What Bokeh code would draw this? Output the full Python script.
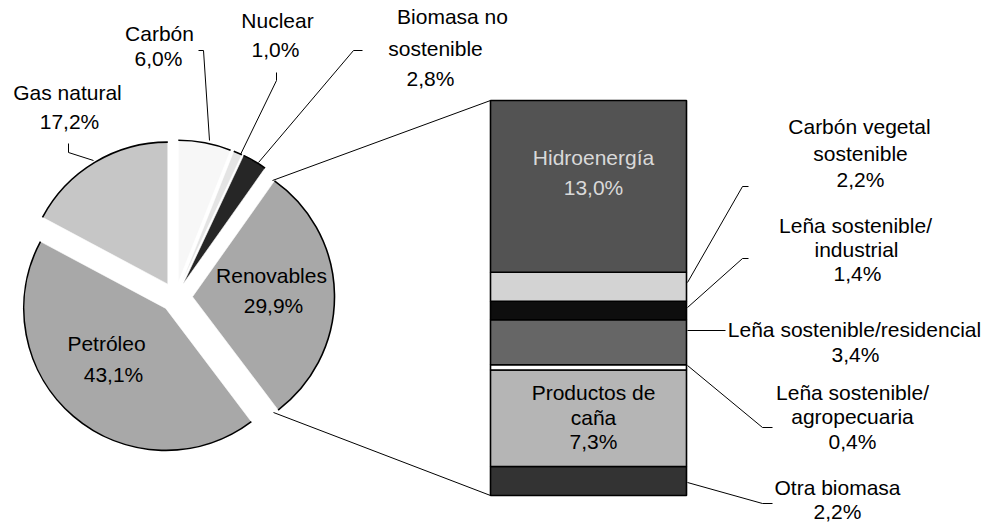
import math
from bokeh.plotting import figure
from bokeh.models import Range1d, ColumnDataSource
from bokeh.embed import file_html
from bokeh.resources import INLINE
from bokeh.core.properties import value

# ---------------- data ----------------
pie_labels = ["Carbón", "Nuclear", "Biomasa no sostenible", "Renovables", "Petróleo", "Gas natural"]
pie_values = [6.0, 1.0, 2.8, 29.9, 43.1, 17.2]

bar_labels = ["Otra biomasa", "Productos de caña", "Leña sostenible/agropecuaria",
              "Leña sostenible/residencial", "Leña sostenible/industrial",
              "Carbón vegetal sostenible", "Hidroenergía"]
bar_values = [2.2, 7.3, 0.4, 3.4, 1.4, 2.2, 13.0]

# ---------------- style / layout ----------------
pie_colors = ["#f7f7f7", "#e4e4e4", "#262626", "#a8a8a8", "#a8a8a8", "#c6c6c6"]
pie_explode = [15, 15, 15, 17, 15, 15]
bar_colors = ["#333333", "#b5b5b5", "#ffffff", "#666666", "#0e0e0e", "#d3d3d3", "#535353"]

FONT = value("Liberation Sans")
FS = "21px"
W, H = 988, 522
CX, CY, R = 175.0, 296.5, 142.0        # pie centre in page pixels
BAR_X0, BAR_X1, BAR_Y_BOTTOM, BAR_Y_TOP = 490, 686, 495, 100
TEXT_DY = -1.5                          # cap-centre -> baseline correction


def fmt(v):
    return ("%.1f" % v).replace(".", ",") + "%"


p = figure(width=W, height=H, output_backend="svg", toolbar_location=None,
           x_range=Range1d(0, W), y_range=Range1d(-H, 0),
           min_border=0, outline_line_color=None, background_fill_color="white",
           border_fill_color="white")
p.axis.visible = False
p.grid.visible = False

# ---------------- pie ----------------
total = sum(pie_values)
cum = 0.0
wx, wy, sa, ea = [], [], [], []
for v, d in zip(pie_values, pie_explode):
    t1 = 2 * math.pi * cum / total
    cum += v
    t2 = 2 * math.pi * cum / total
    tm = (t1 + t2) / 2
    wx.append(CX + d * math.sin(tm))
    wy.append(-CY + d * math.cos(tm))
    sa.append(math.pi / 2 - t1)
    ea.append(math.pi / 2 - t2)

pie_src = ColumnDataSource(dict(x=wx, y=wy, sa=sa, ea=ea, color=pie_colors, label=pie_labels))
p.wedge(x="x", y="y", radius=R, start_angle="sa", end_angle="ea", direction="clock",
        fill_color="color", line_color="white", line_width=0.6, source=pie_src)
p.arc(x="x", y="y", radius=R, start_angle="sa", end_angle="ea", direction="clock",
      line_color="black", line_width=1.6, source=pie_src)

# ---------------- bar (own percentage scale) ----------------
btotal = sum(bar_values)
k = (BAR_Y_BOTTOM - BAR_Y_TOP) / btotal
p.extra_y_ranges = {"bar": Range1d(-(H - BAR_Y_BOTTOM) / k, BAR_Y_BOTTOM / k)}
bottoms, tops = [], []
acc = 0.0
for v in bar_values:
    bottoms.append(acc)
    acc += v
    tops.append(acc)
bar_src = ColumnDataSource(dict(x=[(BAR_X0 + BAR_X1) / 2] * len(bar_values), bottom=bottoms,
                                top=tops, color=bar_colors, label=bar_labels))
p.vbar(x="x", width=BAR_X1 - BAR_X0, bottom="bottom", top="top", fill_color="color",
       line_color="black", line_width=1.6, source=bar_src, y_range_name="bar")

# ---------------- leader / connector lines ----------------
leaders = [
    [(198, 50), (203, 50), (209, 140)],      # Carbón
    [(276, 72), (276, 80), (240, 154)],      # Nuclear
    [(362, 50), (353, 50), (258, 162)],      # Biomasa no sostenible
    [(68, 143), (68, 152), (93, 160)],       # Gas natural
    [(272, 180), (490, 100)],                # connector top
    [(273, 412), (490, 495)],                # connector bottom
    [(748, 186), (742, 186), (687, 282)],    # Carbón vegetal
    [(748, 258), (742, 258), (687, 307)],    # Leña industrial
    [(687, 330), (725, 330)],                # Leña residencial
    [(772, 427), (762, 427), (687, 365)],    # Leña agropecuaria
    [(772, 503), (762, 503), (687, 482)],    # Otra biomasa
]
p.multi_line(xs=[[a for a, b in l] for l in leaders], ys=[[-b for a, b in l] for l in leaders],
             line_color="black", line_width=1)

# ---------------- labels ----------------
pie_lines = [["Carbón"], ["Nuclear"], ["Biomasa no", "sostenible"], ["Renovables"],
             ["Petróleo"], ["Gas natural"]]
pie_pos = [
    [(159, 34.5), (158, 59.5)],
    [(277, 21), (275, 50)],
    [(452, 17.5), (435, 49), (430, 79)],
    [(271, 276), (273, 306)],
    [(106, 344.5), (113, 375.5)],
    [(67, 93), (69, 122)],
]
bar_lines = [["Otra biomasa"], ["Productos de", "caña"], ["Leña sostenible/", "agropecuaria"],
             ["Leña sostenible/residencial"], ["Leña sostenible/", "industrial"],
             ["Carbón vegetal", "sostenible"], ["Hidroenergía"]]
bar_pos = [
    [(837, 488), (837, 512)],
    [(593, 393), (593, 418), (593, 442)],
    [(852, 393), (852, 417), (852, 442)],
    [(854, 330), (855, 355)],
    [(855, 226), (856, 250), (857, 274)],
    [(859, 127), (860, 154), (860, 180)],
    [(593, 158), (593, 188)],
]
bar_text_colors = ["black", "black", "black", "black", "black", "black", "#d9d9d9"]

tx, ty, tt, tc = [], [], [], []
for lines, v, pos in zip(pie_lines, pie_values, pie_pos):
    for s, (x, y) in zip(lines + [fmt(v)], pos):
        tx.append(x); ty.append(-(y + TEXT_DY)); tt.append(s); tc.append("black")
for lines, v, pos, c in zip(bar_lines, bar_values, bar_pos, bar_text_colors):
    for s, (x, y) in zip(lines + [fmt(v)], pos):
        tx.append(x); ty.append(-(y + TEXT_DY)); tt.append(s); tc.append(c)

p.text(x="x", y="y", text="t", text_color="c", source=ColumnDataSource(dict(x=tx, y=ty, t=tt, c=tc)),
       text_font=FONT, text_font_size=FS, text_align="center", text_baseline="alphabetic")

open("out.html", "w").write(file_html(p, INLINE))
